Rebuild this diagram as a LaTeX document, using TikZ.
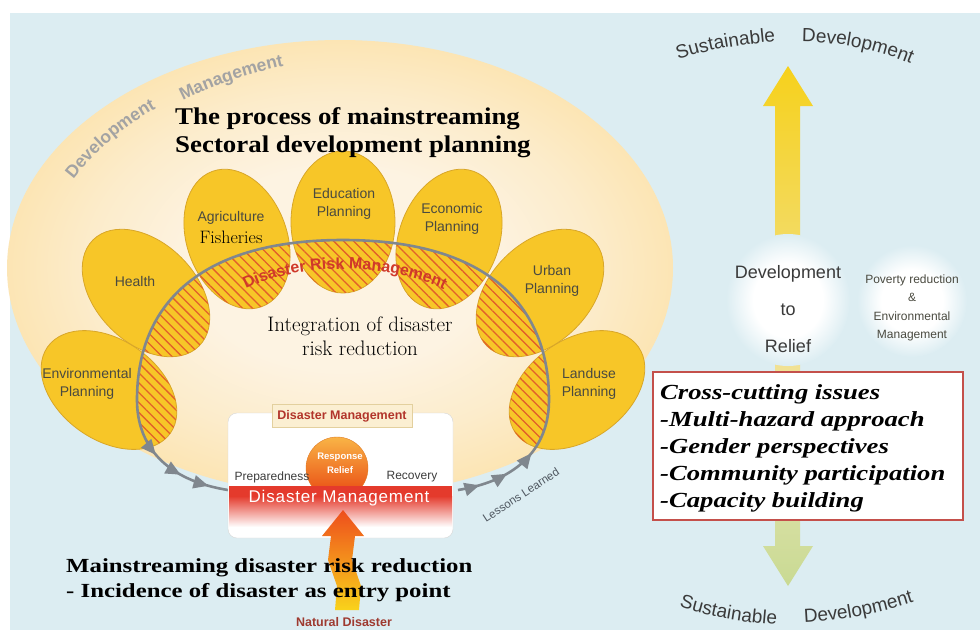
\documentclass[tikz,border=0pt]{standalone}
\usepackage{fontspec}
\setsansfont{Liberation Sans}
\newfontfamily\titleserif[FakeStretch=1.12]{Liberation Serif}
\newfontfamily\wideserif[FakeStretch=1.24]{Liberation Serif}
\usepackage{tikz}
\usetikzlibrary{calc, arrows.meta, decorations.text, decorations.markings, patterns.meta}

\definecolor{bgblue}{HTML}{DCEDF2}
\definecolor{dmouter}{HTML}{FCE5B4}
\definecolor{dmmid}{HTML}{FCECCB}
\definecolor{dminner}{HTML}{FDF3E2}
\definecolor{petalyellow}{HTML}{F7C628}
\definecolor{petalline}{HTML}{D8A628}
\definecolor{hatchred}{HTML}{E2602A}
\definecolor{cyclegray}{HTML}{80878E}
\definecolor{dmgray}{HTML}{A3A3A3}
\definecolor{drmred}{HTML}{D0392A}
\definecolor{dmred}{HTML}{B2352B}
\definecolor{labelgray}{HTML}{4A4A40}
\definecolor{phasegray}{HTML}{3C3C3C}
\definecolor{boxgray}{HTML}{D6D6D6}
\definecolor{labelcream}{HTML}{FBEFD2}
\definecolor{labelline}{HTML}{E3D09E}
\definecolor{resptop}{HTML}{F9B446}
\definecolor{respbottom}{HTML}{E8440F}
\definecolor{respline}{HTML}{E07A22}
\definecolor{bandred}{HTML}{E43A2C}
\definecolor{arrowred}{HTML}{EE4E1C}
\definecolor{arroworange}{HTML}{F6901F}
\definecolor{arrowyellow}{HTML}{F9D31B}
\definecolor{natred}{HTML}{9E3A30}
\definecolor{lessongray}{HTML}{4F5760}
\definecolor{sdgray}{HTML}{3A3A3A}
\definecolor{upyellow}{HTML}{F6D11C}
\definecolor{uppale}{HTML}{EFE6B4}
\definecolor{downtop}{HTML}{E2E3AE}
\definecolor{downbottom}{HTML}{C9DA93}
\definecolor{circleedge}{HTML}{DCEDF2}
\definecolor{boxred}{HTML}{C4504B}

\pgfdeclareradialshading{softdisc}{\pgfpoint{0bp}{0bp}}{color(0bp)=(white); color(14bp)=(white); color(25bp)=(circleedge); color(50bp)=(circleedge)}
\pgfdeclareradialshading{dmglow}{\pgfpoint{0bp}{0bp}}{color(0bp)=(dminner); color(11bp)=(dminner); color(19bp)=(dmmid); color(25bp)=(dmouter); color(50bp)=(dmouter)}

\tikzset{
    petal/.style={fill=petalyellow, draw=petalline, line width=0.8pt},
    sectorlabel/.style={font=\sffamily\fontsize{14}{18}\selectfont, text=labelgray, align=center, inner sep=0pt},
    headtext/.style={font=\titleserif\bfseries\fontsize{24}{28}\selectfont, anchor=base west, inner sep=0pt},
    entrytext/.style={font=\wideserif\bfseries\fontsize{20}{25}\selectfont, anchor=base west, inner sep=0pt},
    issuetext/.style={font=\wideserif\bfseries\itshape\fontsize{21.5}{27}\selectfont, anchor=base west, inner sep=0pt},
    integtext/.style={font=\fontsize{21}{24}\selectfont, anchor=base, inner sep=0pt},
    cycleline/.style={draw=cyclegray, line width=2.6pt},
    dmbox/.style={draw=boxgray, fill=white, rounded corners=9pt, minimum width=225pt, minimum height=125pt},
    dmlabel/.style={draw=labelline, fill=labelcream, text=dmred, font=\sffamily\bfseries\fontsize{12.5}{14}\selectfont, minimum width=140pt, minimum height=23pt, inner sep=0pt},
    phasetext/.style={font=\sffamily\fontsize{12}{14}\selectfont, text=phasegray, inner sep=0pt},
    respcircle/.style={circle, draw=respline, top color=resptop, bottom color=respbottom, minimum size=62pt, inner sep=0pt},
    resptext/.style={font=\sffamily\bfseries\fontsize{9.5}{14}\selectfont, text=white, align=center, inner sep=0pt},
    bandtext/.style={font=\sffamily\fontsize{17}{20}\selectfont\addfontfeature{LetterSpace=5}, text=white, inner sep=0pt},
    circletext/.style={font=\sffamily\fontsize{18}{37}\selectfont, text=sdgray, align=center, inner sep=0pt},
    povertytext/.style={font=\sffamily\fontsize{12}{18.5}\selectfont, text=labelgray, align=center, inner sep=0pt},
    issuebox/.style={draw=boxred, line width=2pt, fill=white, minimum width=310pt, minimum height=148pt},
}

\begin{document}
\begin{tikzpicture}[x=1pt, y=-1pt]
    \useasboundingbox (0,0) rectangle (980,630);

    % define background
    \fill[white] (0,0) rectangle (980,630);
    \fill[bgblue] (10,13) rectangle (980,630);

    % development management
    \shade[shading=dmglow] (340,268) ellipse [x radius=333, y radius=228];

    \path[decorate, decoration={text along path, text align=center, text color=dmgray,
        text={|\sffamily\bfseries\fontsize{17.5}{18}\selectfont|Development}}]
        (64,192) .. controls (94,150) and (125,124) .. (170,101);
    \path[decorate, decoration={text along path, text align=center, text color=dmgray,
        text={|\sffamily\bfseries\fontsize{17.5}{18}\selectfont|Management}}]
        (170,108) .. controls (205,88) and (245,74) .. (298,63);

    % sector planning petals
    \def\petallist{109/390/-35/75/50, 577/390/35/75/50, 146/293/45/50/75, 540/293/-45/50/75, 237/239/20/50/72, 449/239/-20/50/72, 343/222/0/52/71}
    \foreach \px/\py/\rot/\rx/\ry in \petallist
        \draw[petal, shift={(\px,\py)}, rotate=\rot] (0,0) ellipse [x radius=\rx, y radius=\ry];

    % hatched part inside the cycle
    \begin{scope}
        \clip (458,490) .. controls (521,480) and (549,445) .. (549,400)
            .. controls (549,300) and (481,240) .. (343,240)
            .. controls (205,240) and (137,300) .. (137,400)
            .. controls (137,445) and (165,480) .. (228,490) -- cycle;
        \foreach \px/\py/\rot/\rx/\ry in \petallist {
            \begin{scope}
                \clip[shift={(\px,\py)}, rotate=\rot] (0,0) ellipse [x radius=\rx, y radius=\ry];
                \fill[pattern={Lines[angle=-45, distance=7pt, line width=1.3pt]}, pattern color=hatchred]
                    (20,200) rectangle (680,500);
            \end{scope}
        }
    \end{scope}

    \node[headtext] (head_a) at (175,124) {The process of mainstreaming};
    \node[headtext] (head_b) at (175,152) {Sectoral development planning};

    \node[sectorlabel] (env) at (87,384) {Environmental\\Planning};
    \node[sectorlabel] (health) at (135,281) {Health};
    \node[sectorlabel] (agri) at (231,218) {Agriculture};
    \node[font=\fontsize{18}{18}\selectfont, inner sep=0pt] (fish) at (231,237) {Fisheries};
    \node[sectorlabel] (edu) at (344,204) {Education\\Planning};
    \node[sectorlabel] (econ) at (452,219) {Economic\\Planning};
    \node[sectorlabel] (urban) at (552,281) {Urban\\Planning};
    \node[sectorlabel] (landuse) at (589,384) {Landuse\\Planning};

    % disaster risk management cycle
    \draw[cycleline, postaction={decorate}, decoration={markings,
            mark=at position 22pt with {\arrow{Triangle[length=15pt, width=13pt]}},
            mark=at position 52pt with {\arrow{Triangle[length=15pt, width=13pt]}},
            mark=at position 84pt with {\arrow{Triangle[length=15pt, width=13pt]}},
            mark=at position -82pt with {\arrow{Triangle[length=15pt, width=13pt]}},
            mark=at position -50pt with {\arrow{Triangle[length=15pt, width=13pt]}},
            mark=at position -20pt with {\arrow{Triangle[length=15pt, width=13pt]}}}]
        (458,490) .. controls (521,480) and (549,445) .. (549,400)
        .. controls (549,300) and (481,240) .. (343,240)
        .. controls (205,240) and (137,300) .. (137,400)
        .. controls (137,445) and (165,480) .. (228,490);

    \path[decorate, decoration={text along path, text align=center, text color=drmred,
        text={|\sffamily\bfseries\fontsize{16}{16}\selectfont|Disaster Risk Management}}]
        (225,302) .. controls (280,258) and (405,258) .. (465,302);

    \node[integtext] (integ_a) at (360,331) {Integration of disaster};
    \node[integtext] (integ_b) at (360,355) {risk reduction};

    \node[font=\sffamily\fontsize{11.5}{12}\selectfont, text=lessongray, rotate=33, inner sep=0pt] (lessons) at (521,495) {Lessons Learned};

    % disaster management box
    \node[dmbox] (dm_box) at (340.5,475.5) {};
    \node[respcircle] (resp) at (337,468) {};
    \node[resptext] (resp_text) at (340,463) {Response\\Relief};
    \fill[bandred] (229,486) rectangle (452,496);
    \shade[top color=bandred, bottom color=white] (229,496) rectangle (452,527);
    \node[bandtext] (band_text) at (339,498) {Disaster Management};
    \node[dmlabel] (dm_label) at (342,416) {Disaster Management};
    \node[phasetext] (prep) at (272,477) {Preparedness};
    \node[phasetext] (recov) at (412,477) {Recovery};

    % natural disaster as entry point
    \shade[top color=arrowred, middle color=arroworange, bottom color=arrowyellow]
        (343,510) -- (364,536) -- (355,536) -- (352,560) -- (361,586) -- (359,610)
        -- (335,610) -- (337,586) -- (328,560) -- (331,536) -- (322,536) -- cycle;
    \node[font=\sffamily\bfseries\fontsize{12.5}{14}\selectfont, text=natred, inner sep=0pt] (nat_dis) at (344,622) {Natural Disaster};

    \node[entrytext] (entry_a) at (66,572) {Mainstreaming disaster risk reduction};
    \node[entrytext] (entry_b) at (66,597) {- Incidence of disaster as entry point};

    % sustainable development axis
    \shade[top color=upyellow, bottom color=uppale]
        (788,66) -- (813,106) -- (800,106) -- (800,450) -- (775,450) -- (775,106) -- (763,106) -- cycle;
    \shade[top color=downtop, bottom color=downbottom]
        (775,450) -- (800,450) -- (800,546) -- (813,546) -- (788,586) -- (763,546) -- (775,546) -- cycle;

    \path[decorate, decoration={text along path, text align=center, text color=sdgray,
        text={|\sffamily\fontsize{19}{19}\selectfont|Sustainable}}]
        (672,62) .. controls (705,50) and (740,44) .. (782,41);
    \path[decorate, decoration={text along path, text align=center, text color=sdgray,
        text={|\sffamily\fontsize{19}{19}\selectfont|Development}}]
        (794,42) .. controls (838,41) and (880,50) .. (918,67);
    \path[decorate, decoration={text along path, text align=center, text color=sdgray,
        text={|\sffamily\fontsize{19}{19}\selectfont|Sustainable}}]
        (674,605) .. controls (708,617) and (745,623) .. (782,625);
    \path[decorate, decoration={text along path, text align=center, text color=sdgray,
        text={|\sffamily\fontsize{19}{19}\selectfont|Development}}]
        (798,623) .. controls (840,622) and (882,613) .. (920,600);

    \shade[shading=softdisc] (788,300) ellipse [x radius=62, y radius=66];
    \shade[shading=softdisc] (912,301) ellipse [x radius=55, y radius=56];
    \node[circletext] (dev_relief) at (788,309) {Development\\to\\Relief};
    \node[povertytext] (poverty) at (912,308) {Poverty reduction\\\&\\Environmental\\Management};

    % cross-cutting issues
    \node[issuebox] (issue_box) at (808,446) {};
    \foreach \txt [count=\i] in {Cross-cutting issues, -Multi-hazard approach, -Gender perspectives, -Community participation, -Capacity building}
        \node[issuetext] (issue_\i) at (660,{399+27.2*(\i-1)}) {\txt};
\end{tikzpicture}
\end{document}
